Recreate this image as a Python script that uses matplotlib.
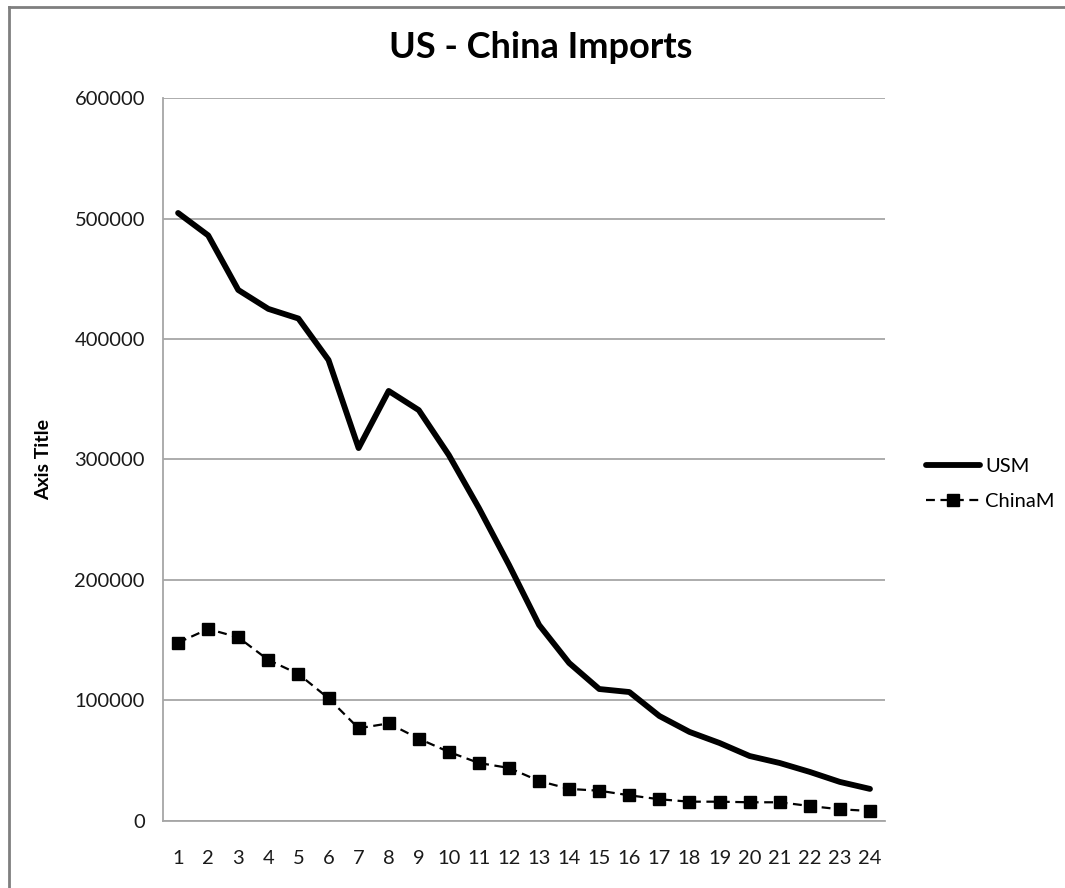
import matplotlib.pyplot as plt
from matplotlib.lines import Line2D

plt.rcParams['font.family'] = ['Lato', 'DejaVu Sans']

# data
periods = list(range(1, 25))
usm = [504600, 486000, 440700, 425000, 417000, 382600, 309500, 356900,
       341000, 303700, 259700, 212500, 162700, 131100, 109500, 107000,
       87100, 73900, 64700, 53900, 48100, 40700, 32400, 26600]
chinam = [148000, 159300, 152400, 133600, 122000, 101800, 76900, 81000,
          68300, 57300, 48100, 44000, 33200, 26600, 25100, 21300,
          18000, 16000, 16000, 15500, 15500, 12400, 9700, 8300]
yticks = [0, 100000, 200000, 300000, 400000, 500000, 600000]

fig = plt.figure(figsize=(10.65, 8.88), dpi=100)
ax = fig.add_axes([0.1531, 0.0755, 0.6779, 0.8141])

grid_col = '#a6a6a6'
ax.set_yticks(yticks)
ax.set_yticklabels([str(v) for v in yticks])
ax.yaxis.grid(True, color=grid_col, linewidth=1.3)
ax.set_axisbelow(True)

l1, = ax.plot(periods, usm, color='black', linewidth=4.2, label='USM',
              solid_joinstyle='round', solid_capstyle='round')
l2, = ax.plot(periods, chinam, color='black', linewidth=1.6,
              linestyle=(0, (4, 2.5)), marker='s', markersize=8,
              markerfacecolor='black', markeredgecolor='black', label='ChinaM')

ax.set_xlim(0.5, 24.5)
ax.set_ylim(0, 600000)
ax.set_xticks(periods)
ax.tick_params(axis='both', length=0, labelsize=14.5, colors='#1a1a1a')
ax.tick_params(axis='x', pad=21)
ax.tick_params(axis='y', pad=13)

for s in ['top', 'right']:
    ax.spines[s].set_visible(False)
ax.spines['left'].set_color(grid_col)
ax.spines['bottom'].set_color(grid_col)
ax.spines['left'].set_linewidth(1.3)
ax.spines['bottom'].set_linewidth(1.3)

ax.set_ylabel('Axis Title', fontsize=14, fontweight='bold', labelpad=16)
fig.text(0.508, 0.946, 'US - China Imports', ha='center', va='center',
         fontsize=26, fontweight='bold')

leg = fig.legend(handles=[l1, l2], loc='center left',
                 bbox_to_anchor=(0.852, 0.455), frameon=False, fontsize=14.5,
                 handlelength=2.7, handletextpad=0.25, labelspacing=0.85)

# outer chart frame (only top and left visible in the crop)
fig.add_artist(Line2D([0.008, 0.008], [0, 0.9916], color='#7f7f7f',
                      linewidth=2, transform=fig.transFigure))
fig.add_artist(Line2D([0.008, 1], [0.9916, 0.9916], color='#7f7f7f',
                      linewidth=2, transform=fig.transFigure))

fig.savefig('out.png', dpi=100)
